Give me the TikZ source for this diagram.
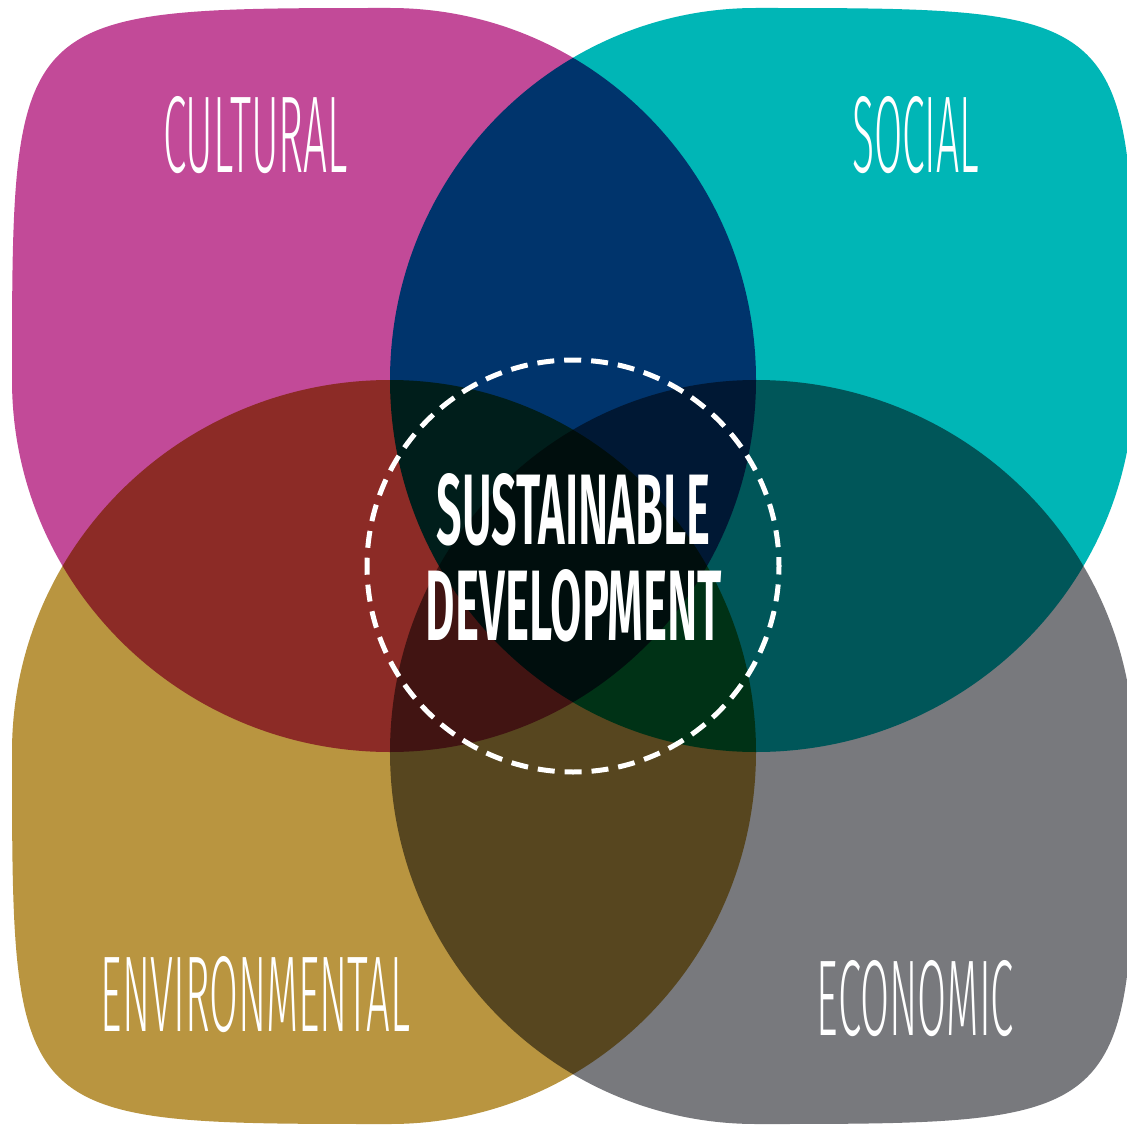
\documentclass[tikz,border=0pt]{standalone}
\usepackage{graphicx}
\usepackage{fontspec}
\setmainfont{Fira Sans}
\newfontfamily\lightfont{Fira Sans Light}
\newfontfamily\medfont{Fira Sans SemiBold}
\definecolor{cmag}{RGB}{194,74,152}
\definecolor{cteal}{RGB}{0,182,182}
\definecolor{cgold}{RGB}{185,149,64}
\definecolor{cgrey}{RGB}{120,121,125}
\tikzset{
  lbl/.style={text=white, inner sep=0pt, outer sep=0pt, anchor=center},
  ring/.style={draw=white, line width=5pt, dash pattern=on 17pt off 9.96pt, dash phase=8.5pt}
}
\begin{document}
\begin{tikzpicture}[x=1pt,y=-1pt]
\useasboundingbox (0,0) rectangle (1127,1126);
\fill[white] (0,0) rectangle (1127,1126);
\begin{scope}[blend group=multiply]
% cultural (magenta)
\fill[cmag] (390,8) arc[start angle=-90, end angle=0, x radius=366, y radius=372]
  arc[start angle=0, end angle=90, x radius=366, y radius=372]
  arc[start angle=90, end angle=180, x radius=378, y radius=372]
  .. controls (12,8) and (12,8) .. (390,8) -- cycle;
% social (teal)
\fill[cteal] (756,8) arc[start angle=270, end angle=180, x radius=366, y radius=372]
  arc[start angle=180, end angle=90, x radius=366, y radius=372]
  arc[start angle=90, end angle=0, x radius=378, y radius=372]
  .. controls (1134,8) and (1134,8) .. (756,8) -- cycle;
% environmental (gold)
\fill[cgold] (390,380) arc[start angle=270, end angle=360, x radius=366, y radius=372]
  arc[start angle=0, end angle=90, x radius=366, y radius=372]
  .. controls (12,1124) and (12,1124) .. (12,752)
  arc[start angle=180, end angle=270, x radius=378, y radius=372] -- cycle;
% economic (grey)
\fill[cgrey] (756,380) arc[start angle=270, end angle=180, x radius=366, y radius=372]
  arc[start angle=180, end angle=90, x radius=366, y radius=372]
  .. controls (1134,1124) and (1134,1124) .. (1134,752)
  arc[start angle=0, end angle=-90, x radius=378, y radius=372] -- cycle;
\end{scope}
\coordinate (mid) at (573,566);
\draw[ring] (mid) circle[radius=206];
\node[lbl] (cultural) at (255.5,135) {\resizebox{185pt}{76pt}{\lightfont CULTURAL}};
\node[lbl] (social) at (915.5,135) {\resizebox{127pt}{76pt}{\lightfont SOCIAL}};
\node[lbl] (environmental) at (255.5,994.5) {\resizebox{309pt}{75pt}{\lightfont ENVIRONMENTAL}};
\node[lbl] (economic) at (915.5,998.5) {\resizebox{197pt}{75pt}{\lightfont ECONOMIC}};
\node[lbl] (sustainable) at (573.5,509.5) {\resizebox{273pt}{71pt}{\medfont SUSTAINABLE}};
\node[lbl] (development) at (574,605.5) {\resizebox{296pt}{71pt}{\medfont DEVELOPMENT}};
\end{tikzpicture}
\end{document}
